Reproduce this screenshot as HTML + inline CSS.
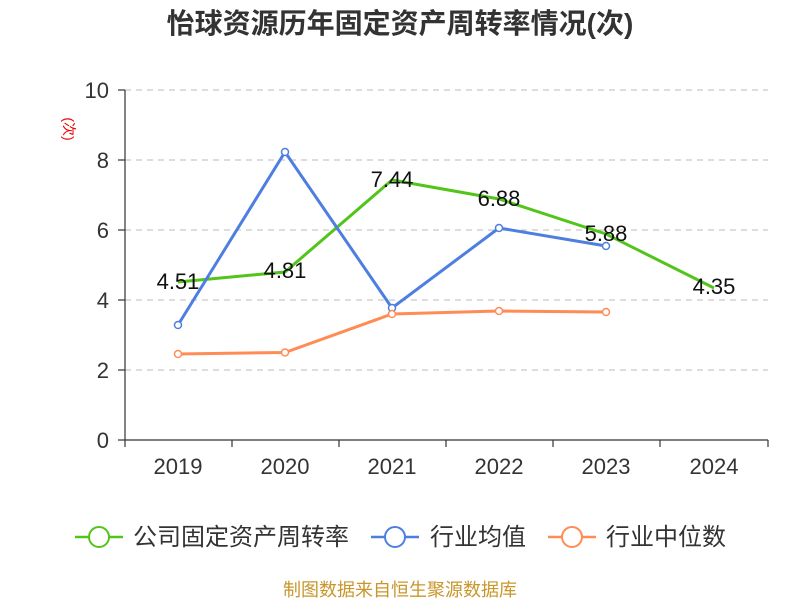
<!DOCTYPE html>
<html><head><meta charset="utf-8"><style>body{margin:0;background:#fff}</style></head><body>
<svg width="800" height="600" xmlns="http://www.w3.org/2000/svg" font-family="Liberation Sans, Noto Sans CJK SC, sans-serif">
<text x="400" y="33" text-anchor="middle" font-size="28" font-weight="bold" fill="#333">怡球资源历年固定资产周转率情况(次)</text>
<text x="68" y="125" font-size="14" fill="#e00" transform="rotate(90 64 125)" text-anchor="middle">(次)</text>
<g stroke="#bbb" stroke-dasharray="6,5" stroke-width="1">
<line x1="125" x2="768" y1="90" y2="90"/><line x1="125" x2="768" y1="160" y2="160"/><line x1="125" x2="768" y1="230" y2="230"/><line x1="125" x2="768" y1="300" y2="300"/><line x1="125" x2="768" y1="370" y2="370"/></g>
<g stroke="#333" stroke-width="1.2">
<line x1="125" x2="125" y1="90" y2="440"/><line x1="125" x2="768" y1="440" y2="440"/>
<line x1="118" x2="125" y1="90" y2="90"/><line x1="118" x2="125" y1="160" y2="160"/><line x1="118" x2="125" y1="230" y2="230"/><line x1="118" x2="125" y1="300" y2="300"/><line x1="118" x2="125" y1="370" y2="370"/><line x1="118" x2="125" y1="440" y2="440"/>
<line x1="125" x2="125" y1="440" y2="447"/><line x1="232" x2="232" y1="440" y2="447"/><line x1="339" x2="339" y1="440" y2="447"/><line x1="446" x2="446" y1="440" y2="447"/><line x1="553" x2="553" y1="440" y2="447"/><line x1="660" x2="660" y1="440" y2="447"/><line x1="768" x2="768" y1="440" y2="447"/></g>
<g font-size="22" fill="#333" text-anchor="end">
<text x="109" y="98">10</text><text x="109" y="168">8</text><text x="109" y="238">6</text><text x="109" y="308">4</text><text x="109" y="378">2</text><text x="109" y="448">0</text></g>
<g font-size="22" fill="#333" text-anchor="middle">
<text x="178" y="474">2019</text><text x="285" y="474">2020</text><text x="392" y="474">2021</text><text x="499" y="474">2022</text><text x="606" y="474">2023</text><text x="714" y="474">2024</text></g>
<polyline fill="none" stroke="#52c41a" stroke-width="3" points="178,282 285,272 392,180 499,199 606,234 714,288"/>
<polyline fill="none" stroke="#4e7fe0" stroke-width="3" points="178,325 285,152 392,308 499,228 606,246"/>
<polyline fill="none" stroke="#ff8c55" stroke-width="3" points="178,354 285,352.5 392,314 499,311 606,312"/>
<g fill="#fff" stroke="#4e7fe0" stroke-width="1.5"><circle cx="178" cy="325" r="3.5"/><circle cx="285" cy="152" r="3.5"/><circle cx="392" cy="308" r="3.5"/><circle cx="499" cy="228" r="3.5"/><circle cx="606" cy="246" r="3.5"/></g>
<g fill="#fff" stroke="#ff8c55" stroke-width="1.5"><circle cx="178" cy="354" r="3.5"/><circle cx="285" cy="352.5" r="3.5"/><circle cx="392" cy="314" r="3.5"/><circle cx="499" cy="311" r="3.5"/><circle cx="606" cy="312" r="3.5"/></g>
<g font-size="22" fill="#111" text-anchor="middle">
<text x="178" y="289">4.51</text><text x="285" y="278">4.81</text><text x="392" y="187">7.44</text><text x="499" y="206">6.88</text><text x="606" y="241">5.88</text><text x="714" y="294">4.35</text></g>
<g font-size="24" fill="#333">
<line x1="75" x2="123" y1="537" y2="537" stroke="#52c41a" stroke-width="2.5"/><circle cx="99" cy="537" r="10" fill="#fff" stroke="#52c41a" stroke-width="2"/><text x="133" y="545">公司固定资产周转率</text>
<line x1="371" x2="419" y1="537" y2="537" stroke="#4e7fe0" stroke-width="2.5"/><circle cx="395" cy="537" r="10" fill="#fff" stroke="#4e7fe0" stroke-width="2"/><text x="430" y="545">行业均值</text>
<line x1="548" x2="596" y1="537" y2="537" stroke="#ff8c55" stroke-width="2.5"/><circle cx="572" cy="537" r="10" fill="#fff" stroke="#ff8c55" stroke-width="2"/><text x="606" y="545">行业中位数</text></g>
<text x="400" y="596" text-anchor="middle" font-size="18" fill="#c8962a">制图数据来自恒生聚源数据库</text>
</svg>
</body></html>
